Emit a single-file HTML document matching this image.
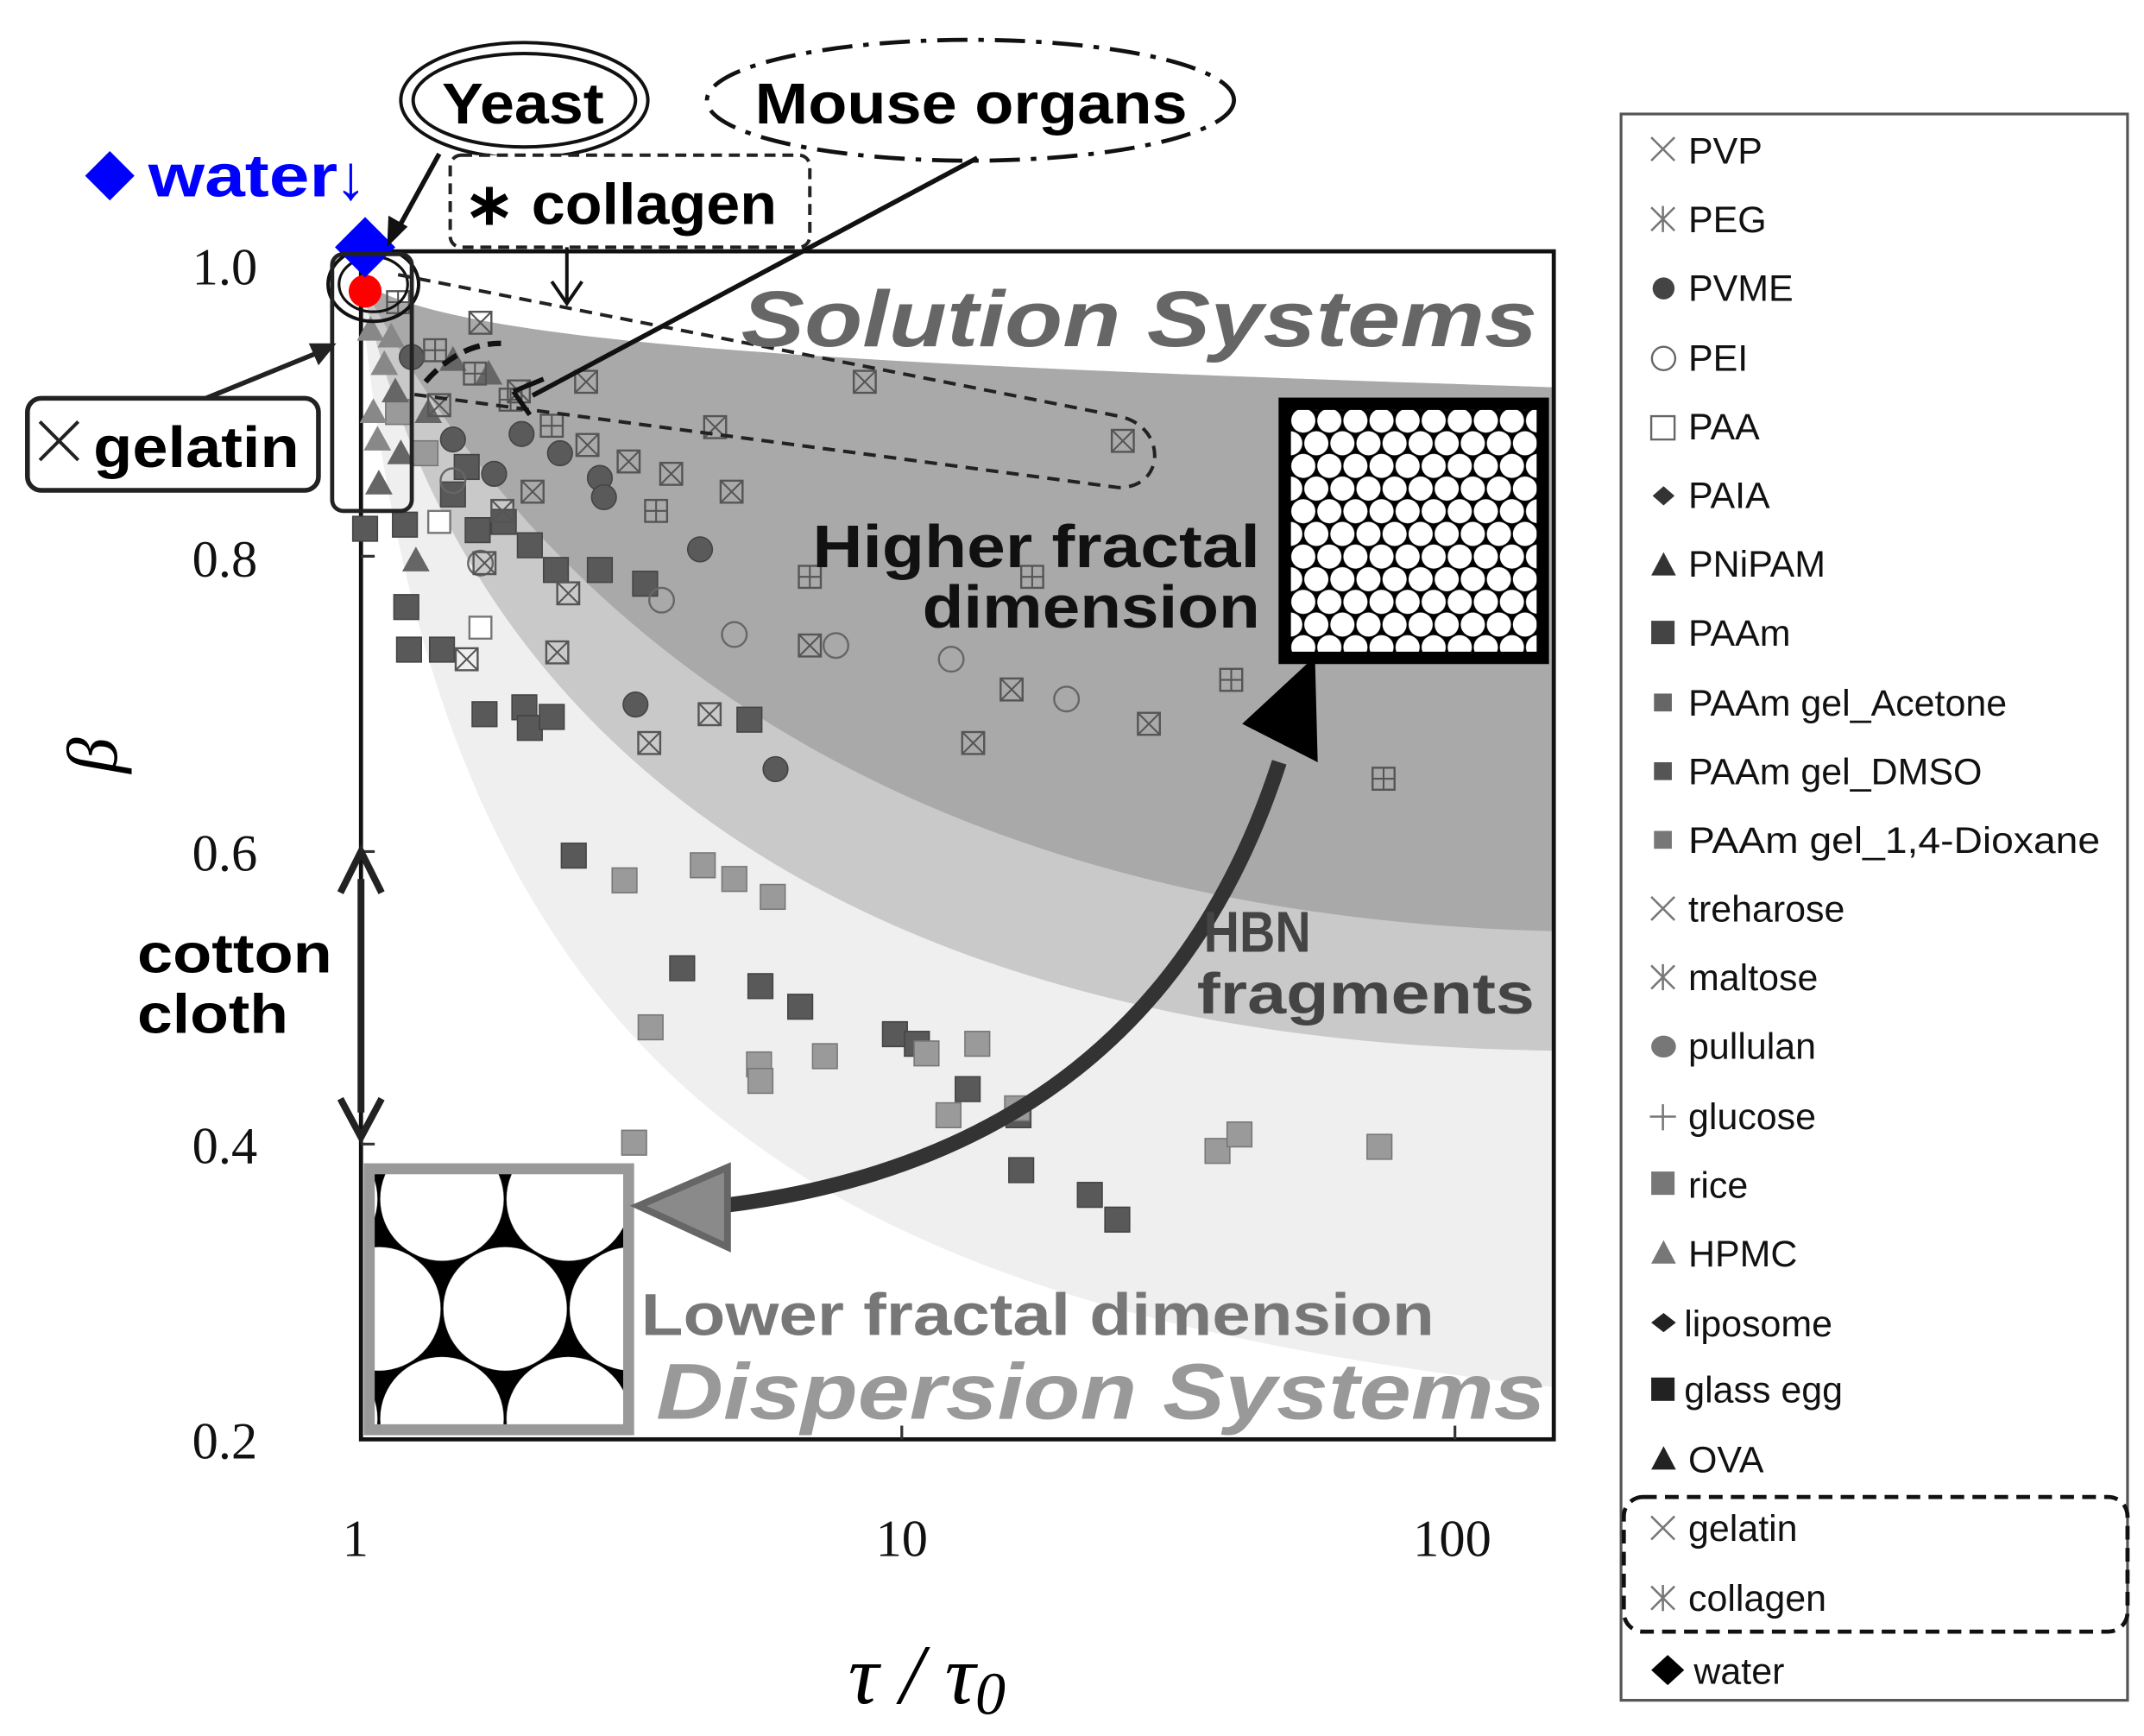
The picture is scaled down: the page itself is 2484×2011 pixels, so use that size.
<!DOCTYPE html>
<html><head><meta charset="utf-8"><style>
html,body{margin:0;padding:0;background:#fff;overflow:hidden}
svg{display:block}
text{font-family:"Liberation Sans",sans-serif}
</style></head><body>
<svg width="2484" height="2011" viewBox="0 0 1562 1264" preserveAspectRatio="none" xmlns="http://www.w3.org/2000/svg">
<defs>
<g id="xb"><rect x="-8" y="-8" width="16" height="16" fill="none" stroke="#555" stroke-width="1.5"/><path d="M-8,-8L8,8M8,-8L-8,8" stroke="#555" stroke-width="1.3"/></g>
<g id="pb"><rect x="-8" y="-8" width="16" height="16" fill="none" stroke="#555" stroke-width="1.5"/><path d="M0,-8V8M-8,0H8" stroke="#555" stroke-width="1.3"/></g>
<circle id="fc" r="9" fill="#5a5a5a" stroke="#444"/>
<circle id="oc" r="9" fill="none" stroke="#666" stroke-width="1.5"/>
<rect id="ds" x="-9" y="-9" width="18" height="18" fill="#595959" stroke="#444"/>
<rect id="rs" x="-9" y="-9" width="18" height="18" fill="#9a9a9a" stroke="#777"/>
<rect id="os" x="-8" y="-8" width="16" height="16" fill="#fff" stroke="#777" stroke-width="1.5"/>
<path id="tr" d="M0,-10L10,8H-10Z" fill="#666"/>
<path id="tl" d="M0,-10L10,8H-10Z" fill="#888"/>
<pattern id="hexS" width="19" height="33" patternUnits="userSpaceOnUse" x="940" y="298">
<rect width="19" height="33" fill="#000"/><circle cx="9.5" cy="8.25" r="8.8" fill="#fff"/><circle cx="0" cy="24.75" r="8.8" fill="#fff"/><circle cx="19" cy="24.75" r="8.8" fill="#fff"/><circle cx="9.5" cy="41.25" r="8.8" fill="#fff"/><circle cx="0" cy="-8.25" r="8.8" fill="#fff"/><circle cx="19" cy="-8.25" r="8.8" fill="#fff"/></pattern>
<pattern id="hexB" width="92" height="160" patternUnits="userSpaceOnUse" x="276" y="793">
<rect width="92" height="160" fill="#000"/><circle cx="46" cy="80" r="45" fill="#fff"/><circle cx="0" cy="0" r="45" fill="#fff"/><circle cx="92" cy="0" r="45" fill="#fff"/><circle cx="0" cy="160" r="45" fill="#fff"/><circle cx="92" cy="160" r="45" fill="#fff"/></pattern>
<clipPath id="pc"><rect x="263" y="183" width="869" height="865"/></clipPath>
</defs>

<g clip-path="url(#pc)">
<path d="M263,205 C330,250 600,265 1132,282 L1132,1010 C600,950 320,800 263,215 Z" fill="#efefef"/>
<path d="M263,205 C330,250 600,265 1132,282 L1132,765 C700,760 350,600 263,205 Z" fill="#c9c9c9"/>
<path d="M263,205 C330,250 600,265 1132,282 L1132,678 C800,670 450,560 263,205 Z" fill="#a9a9a9"/>
</g>
<rect x="263" y="183" width="869" height="865" fill="none" stroke="#111" stroke-width="3"/>
<g stroke="#333" stroke-width="2">
<path d="M263,405h10M263,620h10M263,833h10M657,1048v-10M1060,1048v-10"/>
</g>

<g>
<use href="#ds" x="296" y="442"/><use href="#ds" x="298" y="473"/><use href="#ds" x="322" y="473"/><use href="#ds" x="353" y="520"/><use href="#ds" x="382" y="515"/><use href="#ds" x="386" y="530"/><use href="#ds" x="402" y="522"/><use href="#ds" x="405" y="415"/><use href="#ds" x="437" y="415"/><use href="#ds" x="470" y="425"/><use href="#ds" x="367" y="380"/><use href="#ds" x="546" y="524"/><use href="#ds" x="418" y="623"/><use href="#ds" x="497" y="705"/><use href="#ds" x="554" y="718"/><use href="#ds" x="583" y="733"/><use href="#ds" x="652" y="753"/><use href="#ds" x="668" y="760"/><use href="#ds" x="705" y="793"/><use href="#ds" x="742" y="812"/><use href="#ds" x="744" y="852"/><use href="#ds" x="794" y="870"/><use href="#ds" x="814" y="888"/><use href="#ds" x="266" y="385"/><use href="#ds" x="295" y="382"/><use href="#ds" x="348" y="386"/><use href="#ds" x="386" y="397"/><use href="#ds" x="340" y="340"/><use href="#ds" x="330" y="360"/>
<use href="#rs" x="455" y="641"/><use href="#rs" x="512" y="630"/><use href="#rs" x="535" y="640"/><use href="#rs" x="563" y="653"/><use href="#rs" x="474" y="748"/><use href="#rs" x="553" y="775"/><use href="#rs" x="601" y="769"/><use href="#rs" x="675" y="767"/><use href="#rs" x="712" y="760"/><use href="#rs" x="691" y="812"/><use href="#rs" x="741" y="807"/><use href="#rs" x="887" y="838"/><use href="#rs" x="903" y="826"/><use href="#rs" x="1005" y="835"/><use href="#rs" x="462" y="832"/><use href="#rs" x="554" y="787"/><use href="#rs" x="310" y="330"/><use href="#rs" x="290" y="300"/>
<use href="#os" x="350" y="457"/><use href="#os" x="320" y="380"/>
<use href="#tr" x="303" y="408"/><use href="#tr" x="276" y="352"/><use href="#tr" x="292" y="330"/><use href="#tr" x="312" y="300"/><use href="#tr" x="330" y="262"/><use href="#tr" x="356" y="272"/><use href="#tr" x="288" y="285"/>
<use href="#tl" x="272" y="300"/><use href="#tl" x="280" y="265"/><use href="#tl" x="270" y="240"/><use href="#tl" x="285" y="245"/><use href="#tl" x="275" y="320"/>
<use href="#fc" x="380" y="316"/><use href="#fc" x="408" y="330"/><use href="#fc" x="437" y="348"/><use href="#fc" x="440" y="362"/><use href="#fc" x="510" y="400"/><use href="#fc" x="463" y="513"/><use href="#fc" x="565" y="560"/><use href="#fc" x="360" y="345"/><use href="#fc" x="330" y="320"/><use href="#fc" x="300" y="260"/>
<use href="#oc" x="482" y="437"/><use href="#oc" x="535" y="462"/><use href="#oc" x="609" y="470"/><use href="#oc" x="693" y="480"/><use href="#oc" x="777" y="509"/><use href="#oc" x="350" y="410"/><use href="#oc" x="330" y="350"/>
<use href="#xb" x="350" y="235"/><use href="#xb" x="427" y="278"/><use href="#xb" x="630" y="278"/><use href="#xb" x="521" y="311"/><use href="#xb" x="818" y="321"/><use href="#xb" x="428" y="324"/><use href="#xb" x="458" y="336"/><use href="#xb" x="489" y="345"/><use href="#xb" x="533" y="358"/><use href="#xb" x="414" y="432"/><use href="#xb" x="406" y="475"/><use href="#xb" x="590" y="470"/><use href="#xb" x="517" y="520"/><use href="#xb" x="709" y="541"/><use href="#xb" x="737" y="502"/><use href="#xb" x="837" y="527"/><use href="#xb" x="353" y="410"/><use href="#xb" x="388" y="358"/><use href="#xb" x="366" y="372"/><use href="#xb" x="320" y="295"/><use href="#xb" x="378" y="285"/><use href="#xb" x="340" y="480"/><use href="#xb" x="473" y="541"/>
<use href="#pb" x="346" y="272"/><use href="#pb" x="372" y="291"/><use href="#pb" x="478" y="372"/><use href="#pb" x="590" y="420"/><use href="#pb" x="752" y="420"/><use href="#pb" x="897" y="495"/><use href="#pb" x="1008" y="567"/><use href="#pb" x="402" y="310"/><use href="#pb" x="317" y="255"/><use href="#pb" x="290" y="220"/>
</g>

<ellipse cx="272" cy="207" rx="33" ry="27" fill="none" stroke="#111" stroke-width="2.5"/>
<ellipse cx="272" cy="207" rx="25" ry="20" fill="none" stroke="#111" stroke-width="2"/>
<circle cx="266" cy="212" r="12" fill="#f00"/>
<path d="M266,158 L288,180 L266,202 L244,180 Z" fill="#00f"/>
<rect x="242" y="185" width="58" height="187" rx="8" fill="none" stroke="#222" stroke-width="3"/>
<path d="M290,200 L815,303 C850,310 850,355 815,355 L300,287" fill="none" stroke="#222" stroke-width="2.5" stroke-dasharray="9,6"/>
<path d="M310,278 C330,255 350,250 365,250" fill="none" stroke="#111" stroke-width="4" stroke-dasharray="12,6"/>

<path d="M80,110 L98,128 L80,146 L62,128 Z" fill="#00f"/>
<text x="108" y="143" font-size="44" font-weight="bold" fill="#00f" textLength="138" lengthAdjust="spacingAndGlyphs">water</text>
<text x="244" y="145" font-size="46" fill="#00f">↓</text>

<ellipse cx="382" cy="73" rx="90" ry="42" fill="#fff" stroke="#111" stroke-width="2.5"/>
<ellipse cx="382" cy="73" rx="81" ry="34" fill="none" stroke="#111" stroke-width="2.5"/>
<text x="322" y="90" font-size="42" font-weight="bold" textLength="118" lengthAdjust="spacingAndGlyphs">Yeast</text>
<path d="M320,112 L287,172" stroke="#111" stroke-width="3.5"/>
<path d="M282,180 L283,157 L297,165 Z" fill="#111"/>

<ellipse cx="707" cy="73" rx="192" ry="44" fill="#fff" stroke="#111" stroke-width="3" stroke-dasharray="22,8,4,8"/>
<text x="550" y="90" font-size="42" font-weight="bold" textLength="315" lengthAdjust="spacingAndGlyphs">Mouse organs</text>
<path d="M712,115 L388,288" stroke="#111" stroke-width="3.5"/>
<path d="M374,285 L396,276 M374,285 L386,302" stroke="#111" stroke-width="3.5" fill="none"/>

<rect x="328" y="113" width="262" height="67" rx="8" fill="#fff" stroke="#222" stroke-width="2.5" stroke-dasharray="8,5"/>
<text x="338" y="163" font-size="42" font-weight="bold" textLength="228" lengthAdjust="spacingAndGlyphs">∗ collagen</text>
<path d="M413,180 V220 M402,205 L413,221 L424,205" stroke="#111" stroke-width="2.5" fill="none"/>

<rect x="20" y="290" width="212" height="67" rx="10" fill="#fff" stroke="#222" stroke-width="3.5"/>
<path d="M29,307 L57,335 M57,307 L29,335" stroke="#222" stroke-width="2.5"/>
<text x="68" y="340" font-size="42" font-weight="bold" textLength="150" lengthAdjust="spacingAndGlyphs">gelatin</text>
<path d="M150,290 L236,255" stroke="#222" stroke-width="3.5"/>
<path d="M245,250 L225,250 L232,266 Z" fill="#222"/>

<g font-size="38" fill="#111">
<text x="140" y="207" style="font-family:'Liberation Serif',serif">1.0</text>
<text x="140" y="420" style="font-family:'Liberation Serif',serif">0.8</text>
<text x="140" y="634" style="font-family:'Liberation Serif',serif">0.6</text>
<text x="140" y="847" style="font-family:'Liberation Serif',serif">0.4</text>
<text x="140" y="1062" style="font-family:'Liberation Serif',serif">0.2</text>
<text x="259" y="1133" text-anchor="middle" style="font-family:'Liberation Serif',serif">1</text>
<text x="657" y="1133" text-anchor="middle" style="font-family:'Liberation Serif',serif">10</text>
<text x="1058" y="1133" text-anchor="middle" style="font-family:'Liberation Serif',serif">100</text>
</g>
<text x="85" y="550" font-size="52" font-style="italic" transform="rotate(-90 85 550)" text-anchor="middle" style="font-family:'Liberation Serif',serif">β</text>
<text x="618" y="1240" font-size="62" font-style="italic" style="font-family:'Liberation Serif',serif">τ / τ<tspan font-size="44" dy="8">0</tspan></text>

<text x="100" y="708" font-size="40" font-weight="bold" textLength="142" lengthAdjust="spacingAndGlyphs">cotton</text>
<text x="100" y="752" font-size="40" font-weight="bold" textLength="110" lengthAdjust="spacingAndGlyphs">cloth</text>
<path d="M263,640 V810" stroke="#222" stroke-width="5"/>
<path d="M248,650 L263,620 L278,650 M248,800 L263,828 L278,800" stroke="#222" stroke-width="5" fill="none"/>

<rect x="936" y="294" width="188" height="185" fill="url(#hexS)" stroke="#000" stroke-width="9"/>
<rect x="269" y="851" width="189" height="190" fill="url(#hexB)" stroke="#999" stroke-width="8"/>

<path d="M525,878 Q840,840 932,555" fill="none" stroke="#333" stroke-width="11"/>
<path d="M905,527 L958,478 L960,555 Z" fill="#000"/>
<path d="M465,878 L530,850 L530,908 Z" fill="#8a8a8a" stroke="#666" stroke-width="5"/>

<text x="540" y="252" font-size="58" font-weight="bold" font-style="italic" fill="#666" textLength="580" lengthAdjust="spacingAndGlyphs">Solution Systems</text>
<text x="592" y="413" font-size="44" font-weight="bold" fill="#111" textLength="326" lengthAdjust="spacingAndGlyphs">Higher fractal</text>
<text x="672" y="457" font-size="44" font-weight="bold" fill="#111" textLength="246" lengthAdjust="spacingAndGlyphs">dimension</text>
<text x="877" y="693" font-size="42" font-weight="bold" fill="#444" textLength="78" lengthAdjust="spacingAndGlyphs">HBN</text>
<text x="872" y="738" font-size="42" font-weight="bold" fill="#444" textLength="246" lengthAdjust="spacingAndGlyphs">fragments</text>
<text x="467" y="972" font-size="43" font-weight="bold" fill="#777" textLength="578" lengthAdjust="spacingAndGlyphs">Lower fractal dimension</text>
<text x="478" y="1033" font-size="58" font-weight="bold" font-style="italic" fill="#999" textLength="648" lengthAdjust="spacingAndGlyphs">Dispersion Systems</text>

<rect x="1181" y="83" width="369" height="1155" fill="#fff" stroke="#555" stroke-width="2"/>
<g font-size="27" fill="#111">
<text x="1230" y="119">PVP</text>
<text x="1230" y="169">PEG</text>
<text x="1230" y="219">PVME</text>
<text x="1230" y="270">PEI</text>
<text x="1230" y="320">PAA</text>
<text x="1230" y="370">PAIA</text>
<text x="1230" y="420">PNiPAM</text>
<text x="1230" y="470">PAAm</text>
<text x="1230" y="521">PAAm gel_Acetone</text>
<text x="1230" y="571">PAAm gel_DMSO</text>
<text x="1230" y="621" textLength="300" lengthAdjust="spacingAndGlyphs">PAAm gel_1,4-Dioxane</text>
<text x="1230" y="671">treharose</text>
<text x="1230" y="721">maltose</text>
<text x="1230" y="771">pullulan</text>
<text x="1230" y="822">glucose</text>
<text x="1230" y="872">rice</text>
<text x="1230" y="922">HPMC</text>
<text x="1227" y="973">liposome</text>
<text x="1227" y="1021">glass egg</text>
<text x="1230" y="1072">OVA</text>
<text x="1230" y="1122">gelatin</text>
<text x="1230" y="1173">collagen</text>
<text x="1234" y="1226">water</text>
</g>
<g stroke="#777" stroke-width="1.6" fill="none">
<path d="M1203,100l17,17M1220,100l-17,17"/>
<path d="M1203,151l17,17M1220,151l-17,17M1211.5,150v19"/>
<path d="M1203,653l17,17M1220,653l-17,17"/>
<path d="M1203,703l17,17M1220,703l-17,17M1211.5,702v19"/>
<path d="M1202,813h19M1211.5,804v19"/>
<path d="M1203,1104l17,17M1220,1104l-17,17"/>
<path d="M1203,1155l17,17M1220,1155l-17,17M1211.5,1154v19"/>
</g>
<ellipse cx="1212" cy="210" rx="8" ry="8" fill="#444"/>
<circle cx="1212" cy="261" r="8.5" fill="none" stroke="#666" stroke-width="1.5"/>
<rect x="1203" y="303" width="17" height="17" fill="#fff" stroke="#666" stroke-width="1.5"/>
<path d="M1212,354l8,7l-8,7l-8,-7Z" fill="#333"/>
<path d="M1212,402l9,17h-18Z" fill="#333"/>
<rect x="1203" y="452" width="17" height="17" fill="#444"/>
<rect x="1205" y="505" width="13" height="13" fill="#666"/>
<rect x="1205" y="555" width="13" height="13" fill="#555"/>
<rect x="1205" y="605" width="13" height="13" fill="#777"/>
<ellipse cx="1212" cy="762" rx="9" ry="8" fill="#777"/>
<rect x="1203" y="853" width="17" height="17" fill="#777"/>
<path d="M1212,903l9,17h-18Z" fill="#777"/>
<path d="M1212,956l9,7l-9,7l-9,-7Z" fill="#222"/>
<rect x="1203" y="1003" width="17" height="17" fill="#222"/>
<path d="M1212,1053l9,17h-18Z" fill="#222"/>
<path d="M1215,1205l12,11l-12,11l-12,-11Z" fill="#000"/>
<rect x="1183" y="1090" width="367" height="98" rx="14" fill="none" stroke="#111" stroke-width="3" stroke-dasharray="10,6"/>
</svg>
</body></html>
